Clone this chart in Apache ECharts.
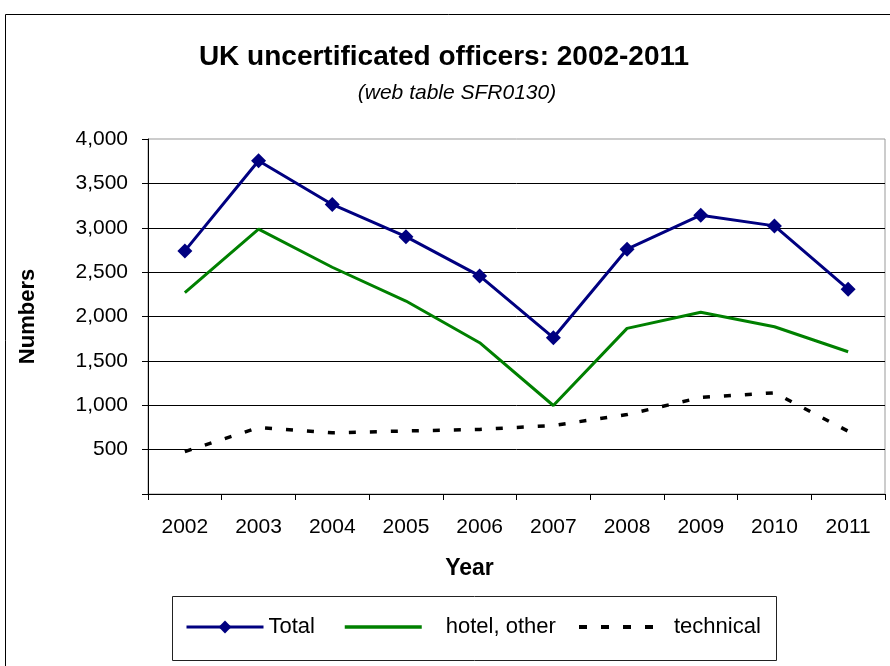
<!DOCTYPE html>
<html><head><meta charset="utf-8">
<script src="https://cdn.jsdelivr.net/npm/echarts@6/dist/echarts.min.js"></script>
<style>html,body{margin:0;padding:0;background:#fff}#c{width:890px;height:666px}</style>
</head><body><div id="c"></div>
<script>
var years = ['2002','2003','2004','2005','2006','2007','2008','2009','2010','2011'];
var total = [2739, 3755, 3262, 2900, 2457, 1761, 2758, 3142, 3021, 2308];
var hotelOther = [2269, 2984, 2555, 2174, 1705, 997, 1866, 2048, 1885, 1603];
var technical = [478, 748, 689, 710, 728, 772, 895, 1088, 1140, 707];
var yTicks = {min: 0, max: 4000, interval: 500};

var font = 'Liberation Sans, Arial, sans-serif';
var chart = echarts.init(document.getElementById('c'));
function legendAt(name, left, textPad, hideSymbol, lineStyle) {
  var l = {
    data: [name], left: left, top: 616, padding: 0, itemWidth: 77, itemHeight: 16,
    textStyle: {fontFamily: font, fontSize: 22, color: '#000', padding: [0, 0, 0, textPad]},
    selectedMode: false, lineStyle: lineStyle
  };
  if (hideSymbol) { l.itemStyle = {opacity: 0, borderWidth: 0}; }
  return l;
}
chart.setOption({
  animation: false,
  backgroundColor: '#fff',
  textStyle: {fontFamily: font},
  title: [{
    text: 'UK uncertificated officers: 2002-2011',
    left: 439, top: 38, textAlign: 'center',
    textStyle: {fontFamily: font, fontSize: 28, fontWeight: 'bold', color: '#000'}
  }, {
    text: '(web table SFR0130)',
    left: 452, top: 78, textAlign: 'center',
    textStyle: {fontFamily: font, fontSize: 21, fontStyle: 'italic', fontWeight: 'normal', color: '#000'}
  }],
  graphic: [
    {type: 'rect', shape: {x: 5.5, y: 14.5, width: 900, height: 700}, style: {fill: 'none', stroke: '#000', lineWidth: 1}, z: -1},
    {type: 'rect', shape: {x: 172.5, y: 596.5, width: 604, height: 64}, style: {fill: 'none', stroke: '#222', lineWidth: 1}, z: -1}
  ],
  legend: [
    legendAt('Total', 185, 0, false, {width: 3}),
    legendAt('hotel, other', 343, 19, true, {width: 3.5}),
    legendAt('technical', 577, 13, true, {width: 4, type: [8, 14]})
  ],
  grid: {left: 148, right: 5, top: 139, bottom: 172, show: true, borderColor: '#999', borderWidth: 1},
  xAxis: {
    type: 'category', data: years, boundaryGap: true,
    name: 'Year', nameLocation: 'middle', nameGap: 63,
    nameTextStyle: {fontFamily: font, fontSize: 23, fontWeight: 'bold', color: '#000', padding: [0, 94, 0, 0]},
    axisLine: {lineStyle: {color: '#000', width: 1}},
    axisTick: {show: true, length: 6, alignWithLabel: false, lineStyle: {color: '#000'}},
    axisLabel: {fontFamily: font, fontSize: 21, color: '#000', margin: 23},
    splitLine: {show: false}
  },
  yAxis: {
    type: 'value', min: yTicks.min, max: yTicks.max, interval: yTicks.interval,
    name: 'Numbers', nameLocation: 'middle', nameGap: 109, nameRotate: 90,
    nameTextStyle: {fontFamily: font, fontSize: 22, fontWeight: 'bold', color: '#000'},
    axisLine: {show: true, lineStyle: {color: '#000', width: 1}},
    axisTick: {show: true, length: 6, lineStyle: {color: '#000'}},
    axisLabel: {fontFamily: font, fontSize: 21, color: '#000', margin: 20,
      formatter: function (v) { return v === 0 ? '' : v.toLocaleString('en-US'); }},
    splitLine: {show: true, showMinLine: false, showMaxLine: false, lineStyle: {color: '#000', width: 1}}
  },
  series: [
    {name: 'Total', type: 'line', data: total, symbol: 'diamond', symbolSize: 15,
     lineStyle: {color: '#000080', width: 3}, itemStyle: {color: '#000080'}, z: 4},
    {name: 'hotel, other', type: 'line', data: hotelOther, symbol: 'none', showSymbol: false,
     lineStyle: {color: '#008000', width: 3}, itemStyle: {color: '#008000'}, z: 3},
    {name: 'technical', type: 'line', data: technical, symbol: 'none', showSymbol: false,
     lineStyle: {color: '#000', width: 3.5, type: [7, 14]}, itemStyle: {color: '#000'}, z: 2}
  ]
});
</script></body></html>
